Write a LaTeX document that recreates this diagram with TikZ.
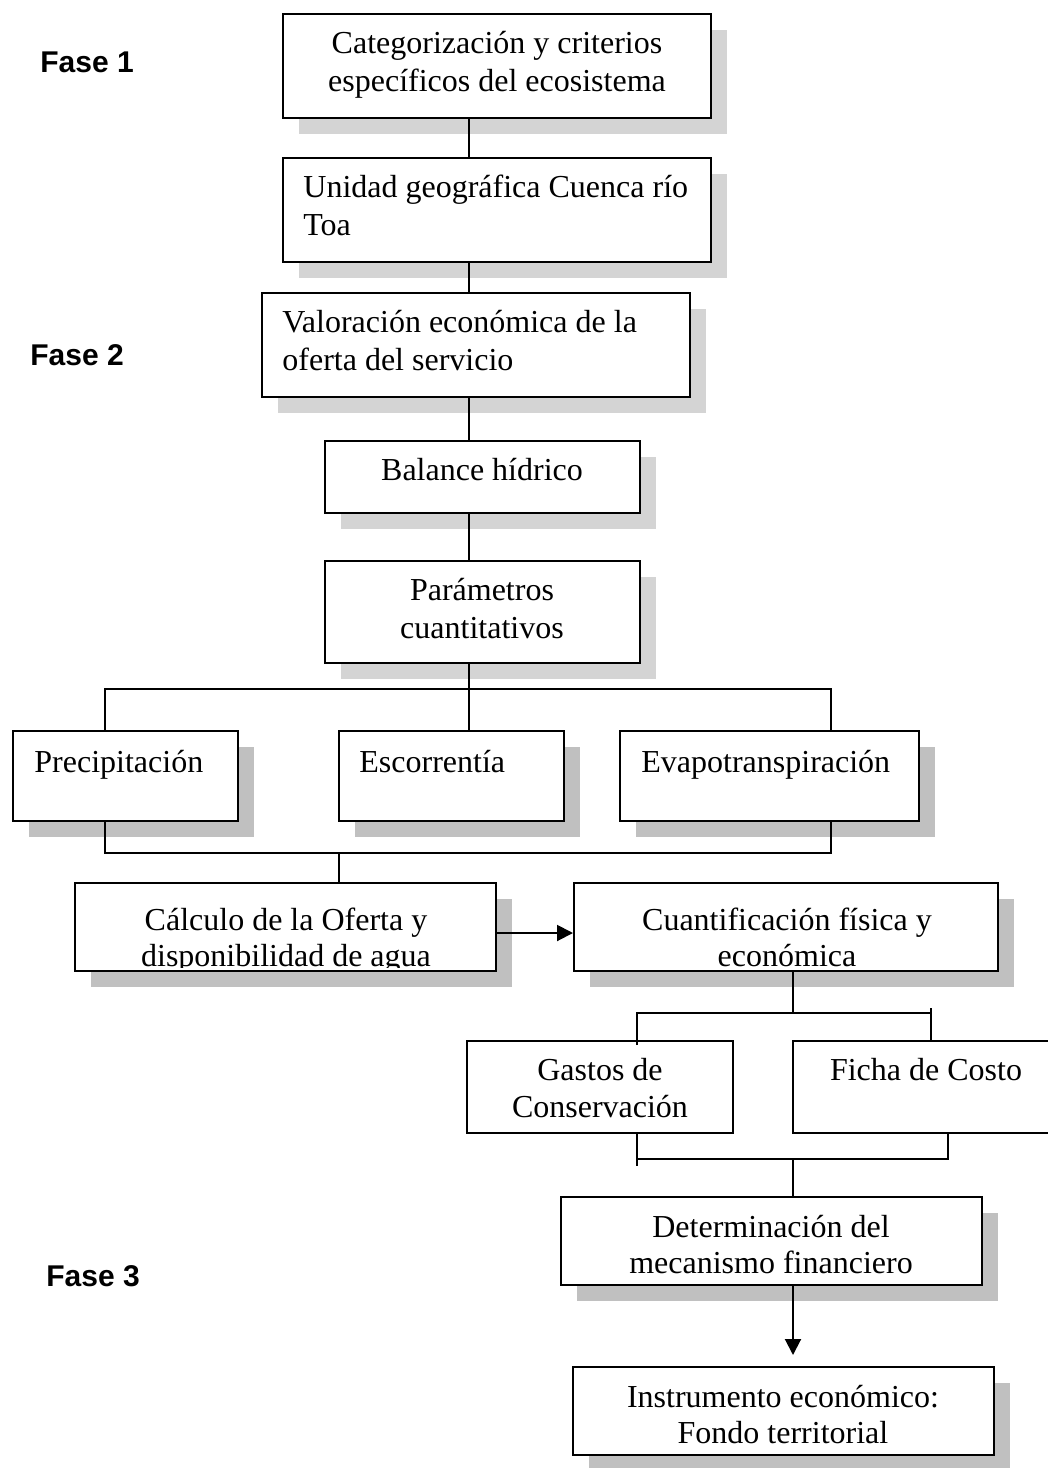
\documentclass[tikz,border=0pt]{standalone}
\usepackage{fontspec}
\setmainfont{Liberation Serif}
\setsansfont{Liberation Sans}
\usetikzlibrary{fit,shadows,arrows.meta}
\definecolor{shadelight}{RGB}{212,212,212}
\definecolor{shadedark}{RGB}{192,192,192}
\begin{document}
\begin{tikzpicture}[x=0.5pt,y=-0.5pt,
  bx/.style={draw, line width=1pt, fill=white, inner sep=0pt},
  shlight/.style={drop shadow={shadow xshift=8pt, shadow yshift=-8pt, fill=shadelight, opacity=1}},
  shdark/.style={drop shadow={shadow xshift=8pt, shadow yshift=-8pt, fill=shadedark, opacity=1}},
  lbl/.style={inner sep=0pt, font=\fontsize{16}{18}\selectfont, anchor=base},
  lbll/.style={lbl, anchor=base west},
  fase/.style={inner sep=0pt, font=\sffamily\bfseries\fontsize{15}{18}\selectfont, anchor=base west},
  link/.style={line width=0.9pt},
  arr/.style={line width=1pt, -{Triangle[length=8pt,width=8pt]}}]

\useasboundingbox (0,0) rectangle (1048,1468);

% phase labels
\node[fase] (fase1) at (40,72) {Fase 1};
\node[fase] (fase2) at (30,365) {Fase 2};
\node[fase] (fase3) at (46,1286) {Fase 3};

% boxes
\node[bx, shlight, fit={(283,14) (711,118)}] (categ) {};
\node[bx, shlight, fit={(283,158) (711,262)}] (unidad) {};
\node[bx, shlight, fit={(262,293) (690,397)}] (valor) {};
\node[bx, shlight, fit={(325,441) (640,513)}] (balance) {};
\node[bx, shlight, fit={(325,561) (640,663)}] (param) {};
\node[bx, shdark, fit={(13,731) (238,821)}] (precip) {};
\node[bx, shdark, fit={(339,731) (564,821)}] (escor) {};
\node[bx, shdark, fit={(620,731) (919,821)}] (evapo) {};
\node[bx, shdark, fit={(75,883) (496,971)}] (calc) {};
\node[bx, shdark, fit={(574,883) (998,971)}] (cuant) {};
\node[bx, fit={(467,1041) (733,1133)}] (gastos) {};
\node[bx, fit={(793,1041) (1060,1133)}] (ficha) {};
\node[bx, shdark, fit={(561,1197) (982,1285)}] (determ) {};
\node[bx, shdark, fit={(573,1367) (994,1455)}] (instr) {};

% box texts
\node[lbl] (categA) at (497,53) {Categorización y criterios};
\node[lbl] (categB) at (497,91) {específicos del ecosistema};
\node[lbll] (unidadA) at (303,197) {Unidad geográfica Cuenca río};
\node[lbll] (unidadB) at (303,235) {Toa};
\node[lbll] (valorA) at (282,332) {Valoración económica de la};
\node[lbll] (valorB) at (282,370) {oferta del servicio};
\node[lbl] (balanceA) at (482,480) {Balance hídrico};
\node[lbl] (paramA) at (482,600) {Parámetros};
\node[lbl] (paramB) at (482,638) {cuantitativos};
\node[lbll] (precipA) at (34,772) {Precipitación};
\node[lbll] (escorA) at (359,772) {Escorrentía};
\node[lbll] (evapoA) at (641,772) {Evapotranspiración};
\begin{scope}
  \clip (76,884) rectangle (495,967);
  \node[lbl] (calcA) at (286,930) {Cálculo de la Oferta y};
  \node[lbl] (calcB) at (286,966) {disponibilidad de agua};
\end{scope}
\node[lbl] (cuantA) at (787,930) {Cuantificación física y};
\node[lbl] (cuantB) at (787,966) {económica};
\node[lbl] (gastosA) at (600,1080) {Gastos de};
\node[lbl] (gastosB) at (600,1117) {Conservación};
\node[lbl] (fichaA) at (926,1080) {Ficha de Costo};
\node[lbl] (determA) at (771,1237) {Determinación del};
\node[lbl] (determB) at (771,1273) {mecanismo financiero};
\node[lbl] (instrA) at (783,1407) {Instrumento económico:};
\node[lbl] (instrB) at (783,1443) {Fondo territorial};

% central spine
\coordinate (spine) at (469,0);
\draw[link] (categ.south -| spine) -- (unidad.north -| spine);
\draw[link] (unidad.south -| spine) -- (valor.north -| spine);
\draw[link] (valor.south -| spine) -- (balance.north -| spine);
\draw[link] (balance.south -| spine) -- (param.north -| spine);

% split into the three parameters
\coordinate (busAL) at (105,689);
\coordinate (busAM) at (469,689);
\coordinate (busAR) at (831,689);
\draw[link] (param.south -| spine) -- (busAM);
\draw[link] (precip.north -| busAL) -- (busAL) -- (busAR) -- (evapo.north -| busAR);
\draw[link] (busAM) -- (escor.north -| busAM);

% join towards the supply calculation
\coordinate (busBL) at (105,853);
\coordinate (busBM) at (339,853);
\coordinate (busBR) at (831,853);
\draw[link] (precip.south -| busBL) -- (busBL) -- (busBR) -- (evapo.south -| busBR);
\draw[link] (busBM) -- (calc.north -| busBM);

% calculation to quantification
\coordinate (arrY) at (0,933);
\draw[arr] (calc.east |- arrY) -- (cuant.west |- arrY);

% split into costs
\coordinate (busCL) at (637,1013);
\coordinate (busCM) at (793,1013);
\coordinate (busCR) at (931,1013);
\coordinate (tickC) at (931,1008);
\coordinate (dropCL) at (637,1045);
\draw[link] (cuant.south -| busCM) -- (busCM);
\draw[link] (dropCL) -- (busCL) -- (busCR);
\draw[link] (tickC) -- (ficha.north -| tickC);

% join towards the financial mechanism
\coordinate (busDL) at (637,1159);
\coordinate (busDM) at (793,1159);
\coordinate (busDR) at (948,1159);
\coordinate (tailDL) at (637,1166);
\draw[link] (gastos.south -| busDL) -- (tailDL);
\draw[link] (busDL) -- (busDR) -- (ficha.south -| busDR);
\draw[link] (busDM) -- (determ.north -| busDM);

% mechanism to instrument
\coordinate (arrTip) at (793,1355);
\draw[arr] (determ.south -| arrTip) -- (arrTip);
\end{tikzpicture}
\end{document}
